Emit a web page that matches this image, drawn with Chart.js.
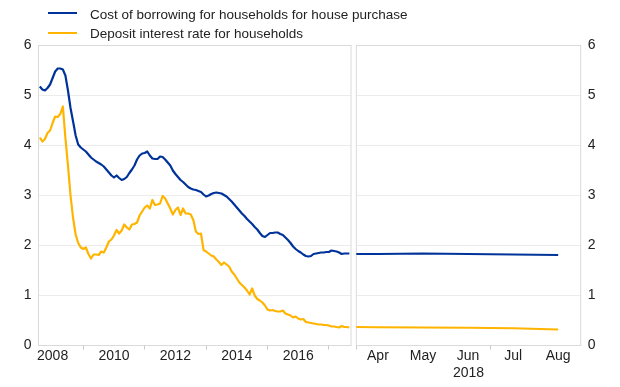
<!DOCTYPE html>
<html>
<head>
<meta charset="utf-8">
<script src="https://cdn.jsdelivr.net/npm/chart.js@4/dist/chart.umd.min.js"></script>
<style>
  html, body { margin: 0; padding: 0; background: #fff; }
  body { width: 620px; height: 387px; position: relative; overflow: hidden; font-family: "Liberation Sans", Arial, sans-serif; }
  #left { position: absolute; left: 0; top: 0; width: 352px; height: 387px; }
  #right { position: absolute; left: 350px; top: 0; width: 270px; height: 387px; }
  .lg-line { position: absolute; left: 48px; width: 29px; height: 2px; }
  .lg-text { position: absolute; left: 90px; font-size: 13.5px; line-height: 19px; color: #222; white-space: nowrap; }
</style>
</head>
<body>
<div id="left"><canvas id="cl"></canvas></div>
<div id="right"><canvas id="cr"></canvas></div>
<div class="lg-line" id="lg1" style="top:12px;"></div>
<div class="lg-text" id="lt1" style="top:4.8px;"></div>
<div class="lg-line" id="lg2" style="top:31.5px;"></div>
<div class="lg-text" id="lt2" style="top:23.5px;"></div>
<script>
// ---------------- DATA ----------------
const seriesNames = ['Cost of borrowing for households for house purchase', 'Deposit interest rate for households'];
const seriesColors = ['#003399', '#FFB400'];

// Left panel: monthly observations, Aug 2007 to Sep 2017
const firstMonth = '2007-08';
const lastMonth = '2017-09';
const borrowingMonthly = [
  5.18, 5.12, 5.10, 5.15, 5.22, 5.35, 5.48, 5.54, 5.54, 5.52,
  5.40, 5.10, 4.75, 4.48, 4.20, 4.02, 3.96, 3.92, 3.88, 3.82,
  3.76, 3.72, 3.68, 3.65, 3.62, 3.58, 3.52, 3.46, 3.40, 3.36,
  3.40, 3.35, 3.31, 3.33, 3.37, 3.45, 3.52, 3.60, 3.72, 3.80,
  3.84, 3.85, 3.88, 3.80, 3.74, 3.73, 3.73, 3.78, 3.77, 3.72,
  3.66, 3.60, 3.50, 3.43, 3.37, 3.31, 3.27, 3.22, 3.17, 3.14,
  3.12, 3.11, 3.09, 3.07, 3.02, 2.98, 3.00, 3.03, 3.05, 3.06,
  3.05, 3.04, 3.01, 2.98, 2.93, 2.88, 2.82, 2.76, 2.70, 2.64,
  2.59, 2.53, 2.48, 2.43, 2.37, 2.32, 2.25, 2.19, 2.17, 2.21,
  2.25, 2.25, 2.26, 2.26, 2.23, 2.21, 2.16, 2.11, 2.05, 1.98,
  1.93, 1.89, 1.86, 1.82, 1.79, 1.78, 1.79, 1.83, 1.84, 1.85,
  1.86, 1.86, 1.87, 1.87, 1.90, 1.89, 1.88, 1.86, 1.83, 1.84,
  1.84, 1.84
];
const depositMonthly = [
  4.16, 4.08, 4.13, 4.25, 4.30, 4.45, 4.58, 4.57, 4.63, 4.78,
  4.15, 3.60, 3.00, 2.55, 2.22, 2.05, 1.96, 1.93, 1.96, 1.83,
  1.74, 1.82, 1.82, 1.81, 1.88, 1.86, 1.96, 2.08, 2.12, 2.20,
  2.31, 2.24, 2.30, 2.42, 2.36, 2.32, 2.42, 2.43, 2.46, 2.60,
  2.68, 2.76, 2.80, 2.74, 2.91, 2.81, 2.82, 2.84, 2.99, 2.94,
  2.84, 2.74, 2.62, 2.71, 2.76, 2.61, 2.74, 2.64, 2.64, 2.62,
  2.51, 2.28, 2.23, 2.24, 1.91, 1.88, 1.84, 1.80, 1.78, 1.72,
  1.67, 1.61, 1.66, 1.62, 1.58, 1.48, 1.42, 1.34, 1.26, 1.21,
  1.16, 1.10, 1.02, 1.14, 1.00, 0.93, 0.90, 0.86, 0.80, 0.72,
  0.70, 0.71, 0.69, 0.68, 0.68, 0.70, 0.64, 0.62, 0.60, 0.56,
  0.58, 0.54, 0.52, 0.53, 0.47, 0.46, 0.45, 0.44, 0.43, 0.42,
  0.42, 0.41, 0.41, 0.40, 0.38, 0.38, 0.37, 0.36, 0.39, 0.37,
  0.37, 0.36
];

// Right panel: 2018 observations
const rightDates = ['2018-03-16', '2018-04-01', '2018-05-01', '2018-06-01', '2018-07-01', '2018-08-01'];
const borrowingRight = [1.83, 1.83, 1.84, 1.83, 1.82, 1.81];
const depositRight = [0.37, 0.365, 0.36, 0.355, 0.345, 0.32];

const yTicks = [0, 1, 2, 3, 4, 5, 6];
const leftYearLabels = [2008, 2010, 2012, 2014, 2016];
const leftYearTicks = [2008, 2009, 2010, 2011, 2012, 2013, 2014, 2015, 2016, 2017];
const rightMonthLabels = {4: 'Apr', 5: 'May', 6: 'Jun', 7: 'Jul', 8: 'Aug'};
const rightYearLabel = '2018';

// --------------- HELPERS ---------------
function monthList(first, last) {
  const out = [];
  let [y, m] = first.split('-').map(Number);
  const [ly, lm] = last.split('-').map(Number);
  while (y < ly || (y === ly && m <= lm)) {
    out.push(y + (m - 1) / 12);
    m++; if (m > 12) { m = 1; y++; }
  }
  return out;
}
function dateToMonth(s) {
  const [y, m, d] = s.split('-').map(Number);
  const dim = new Date(y, m, 0).getDate();
  return m + (d - 1) / dim;
}
const leftX = monthList(firstMonth, lastMonth);
const rightX = rightDates.map(dateToMonth);

document.getElementById('lg1').style.background = seriesColors[0];
document.getElementById('lg2').style.background = seriesColors[1];
document.getElementById('lt1').textContent = seriesNames[0];
document.getElementById('lt2').textContent = seriesNames[1];

const FONT = { family: '"Liberation Sans", Arial, sans-serif', size: 14 };
const TEXT = '#222';
const GRID = '#ececec';
const BORDER = '#dadada';

const panelBox = {
  id: 'panelBox',
  beforeDatasetsDraw(chart) {
    const a = chart.chartArea, ctx = chart.ctx;
    ctx.save();
    ctx.strokeStyle = BORDER;
    ctx.lineWidth = 1;
    ctx.strokeRect(a.left, a.top, a.right - a.left, a.bottom - a.top);
    ctx.restore();
  }
};

function lineDs(label, xs, ys, color) {
  return {
    label, data: xs.map((x, i) => ({ x, y: ys[i] })),
    borderColor: color, backgroundColor: color, borderWidth: 2.2,
    pointRadius: 0, tension: 0, borderJoinStyle: 'round', borderCapStyle: 'butt'
  };
}

Chart.defaults.font = FONT;
Chart.defaults.color = TEXT;

new Chart(document.getElementById('cl'), {
  type: 'line',
  data: {
    datasets: [
      lineDs(seriesNames[0], leftX, borrowingMonthly, seriesColors[0]),
      lineDs(seriesNames[1], leftX, depositMonthly, seriesColors[1])
    ]
  },
  options: {
    responsive: true, maintainAspectRatio: false, animation: false,
    layout: { padding: { left: 0, right: 1, top: 45.5, bottom: 0 } },
    plugins: { legend: { display: false }, tooltip: { enabled: false } },
    scales: {
      x: {
        type: 'linear', min: 2007.54, max: 2017.72,
        afterBuildTicks: s => { s.ticks = leftYearTicks.map(v => ({ value: v })); },
        afterFit: s => { s.height = 41.5; },
        ticks: {
          autoSkip: false, maxRotation: 0, padding: -2, color: TEXT,
          callback: v => leftYearLabels.includes(v) ? String(v) : ''
        },
        grid: {
          drawOnChartArea: false, drawTicks: true, tickLength: 4,
          tickColor: c => (c.tick && !leftYearLabels.includes(c.tick.value)) ? '#c8c8c8' : 'rgba(0,0,0,0)'
        },
        border: { display: false }
      },
      y: {
        min: 0, max: 6,
        afterBuildTicks: s => { s.ticks = yTicks.map(v => ({ value: v })); },
        afterFit: s => { s.width = 38.5; },
        ticks: { padding: 7, color: TEXT },
        grid: { color: GRID, drawTicks: false },
        border: { display: false }
      }
    }
  },
  plugins: [panelBox]
});

new Chart(document.getElementById('cr'), {
  type: 'line',
  data: {
    datasets: [
      lineDs(seriesNames[0], rightX, borrowingRight, seriesColors[0]),
      lineDs(seriesNames[1], rightX, depositRight, seriesColors[1])
    ]
  },
  options: {
    responsive: true, maintainAspectRatio: false, animation: false,
    layout: { padding: { left: 6.3, right: 0, top: 45.5, bottom: 0 } },
    plugins: { legend: { display: false }, tooltip: { enabled: false } },
    scales: {
      x: {
        type: 'linear', min: 3.52, max: 8.5,
        afterBuildTicks: s => { s.ticks = [3.52, 4, 5, 6, 6.5, 7, 8].map(v => ({ value: v })); },
        afterFit: s => { s.height = 41.5; },
        ticks: {
          autoSkip: false, maxRotation: 0, padding: -2, color: TEXT,
          callback: v => rightMonthLabels[v] || ''
        },
        grid: {
          drawOnChartArea: false, drawTicks: true, tickLength: 4,
          tickColor: c => (c.tick && !rightMonthLabels[c.tick.value]) ? '#c8c8c8' : 'rgba(0,0,0,0)'
        },
        border: { display: false },
        title: { display: true, text: rightYearLabel, color: TEXT, font: FONT, padding: { top: 0, bottom: 5 } }
      },
      y: {
        position: 'right', min: 0, max: 6,
        afterBuildTicks: s => { s.ticks = yTicks.map(v => ({ value: v })); },
        afterFit: s => { s.width = 39.3; },
        ticks: { padding: 7, color: TEXT },
        grid: { color: GRID, drawTicks: false },
        border: { display: false }
      }
    }
  },
  plugins: [panelBox]
});
</script>
</body>
</html>
